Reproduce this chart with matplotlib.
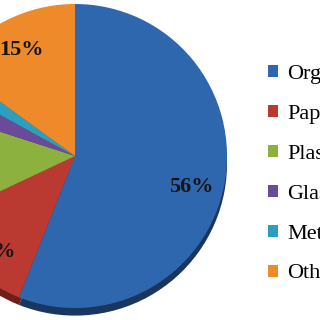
import matplotlib.pyplot as plt

# Waste composition (percent)
categories = ['Organic', 'Paper', 'Plastic', 'Glass', 'Metal', 'Other']
shares = [56, 12, 12, 3, 2, 15]
colors = ['#2F67AE', '#BA3A31', '#8CB13F', '#6A4B99', '#2C9FC0', '#EE8A2A']
rim_colors = ['#18365F', '#6E1F1A', '#506826', '#3A2858', '#17596C', '#8A4C14']
# only these percentage labels fall inside the cropped picture
shown_labels = ['Organic', 'Paper', 'Other']

plt.rcParams['font.family'] = ['Liberation Serif', 'DejaVu Serif']

fig = plt.figure(figsize=(3.2, 3.2), dpi=100)

# pie centre at about (75, 156) px with radius ~152 px; the left part is cropped
r_px = 152
ax = fig.add_axes([(75 - r_px) / 320, (320 - 156 - r_px) / 320,
                   2 * r_px / 320, 2 * r_px / 320])

# dark rim under the pie to give it some thickness
ax.pie(shares, colors=rim_colors, startangle=90, counterclock=False,
       center=(0, -0.05), wedgeprops=dict(linewidth=0))

wedges, _, autotexts = ax.pie(shares, colors=colors, startangle=90, counterclock=False,
                              autopct='%1.0f%%', pctdistance=0.78,
                              wedgeprops=dict(linewidth=0))
for name, t in zip(categories, autotexts):
    t.set_fontsize(16)
    t.set_fontweight('bold')
    t.set_color('#151515')
    if name not in shown_labels:
        t.set_visible(False)
    # labels in the lower half sit a little lower in the original (tilted pie)
    x, y = t.get_position()
    if y < 0:
        t.set_position((x, y - 0.06))

ax.set_xlim(-1, 1)
ax.set_ylim(-1, 1)
ax.set_aspect('equal')
ax.axis('off')

fig.legend(wedges, categories, loc='upper left', bbox_to_anchor=(268 / 320, 1 - 65 / 320),
           frameon=False, fontsize=16, handlelength=0.45, handleheight=0.45,
           handletextpad=0.4, labelspacing=0.94, borderpad=0, borderaxespad=0)

plt.savefig('out.png', dpi=100)
